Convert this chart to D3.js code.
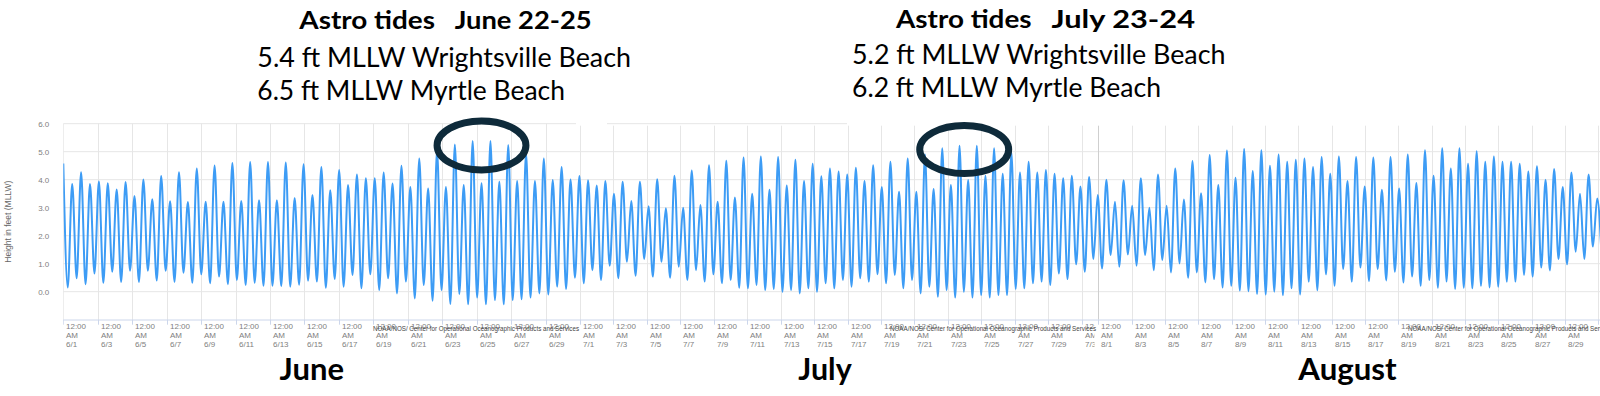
<!DOCTYPE html>
<html>
<head>
<meta charset="utf-8">
<script src="https://cdn.jsdelivr.net/npm/d3@7"></script>
<style>
  html, body { margin: 0; padding: 0; background: #fff; }
  svg { display: block; }
</style>
</head>
<body>
<div id="chart"></div>
<script>
// predicted high and low tides (ft MLLW), in order
const highTides = [
  4.58, 3.85, 4.27, 3.85, 3.94, 3.87, 3.65, 3.92, 3.42, 4.01, 3.30, 4.13, 3.23, 4.27, 3.20, 4.40, 3.21, 4.51, 3.21, 4.60, 3.24, 4.63, 3.27, 4.63, 3.27, 4.61, 3.35,
  4.55, 3.45, 4.45, 3.62, 4.35, 3.81, 4.19, 4.05, 4.05, 4.26, 3.86, 4.50, 3.74, 4.76, 3.69, 5.05, 3.74, 5.26, 3.81, 5.38, 3.87, 5.38, 3.93, 5.24, 3.95,
  4.95, 3.95, 4.76, 3.99, 4.45, 4.01, 4.13, 3.98, 3.79, 3.95, 3.50, 3.93, 3.24, 3.93, 3.05, 4.02, 2.98, 4.14, 3.00, 4.33, 3.10, 4.52, 3.21, 4.68, 3.36, 4.79,
  3.50, 4.83, 3.64, 4.81, 3.79, 4.71, 3.95, 4.57, 4.12, 4.40, 4.29, 4.19, 4.43, 3.95, 4.52, 3.74, 4.64, 3.57, 4.76, 3.57, 4.90, 3.67, 5.12, 3.81, 5.21, 3.99,
  5.21, 4.14, 5.12, 4.21, 4.98, 4.26, 4.64, 4.26, 4.35, 4.21, 4.05, 4.14, 3.76, 4.10, 3.45, 4.00, 3.21, 3.98, 3.07, 4.05, 3.00, 4.19, 3.07, 4.40, 3.29,
  4.67, 3.52, 4.88, 3.81, 5.04, 4.07, 5.10, 4.31, 5.05, 4.50, 4.90, 4.64, 4.71, 4.76, 4.45, 4.81, 4.21, 4.83, 3.95, 4.81, 3.76, 4.79, 3.64, 4.81, 3.69, 4.90,
  3.88, 5.05, 4.14, 5.12, 4.40, 5.12, 4.57, 5.02, 4.64, 4.83, 4.64, 4.64, 4.57, 4.29, 4.48, 4.00, 4.38, 3.74, 4.26, 3.50, 4.19, 3.33
];
const lowTides = [
  0.15, 0.48, 0.27, 0.65, 0.32, 0.71, 0.35, 0.75, 0.35, 0.75, 0.40, 0.75, 0.35, 0.68, 0.32, 0.62, 0.30, 0.54, 0.27, 0.42, 0.24, 0.32, 0.21, 0.21, 0.20, 0.18,
  0.25, 0.39, 0.36, 0.14, 0.45, 0.18, 0.60, 0.12, 0.62, 0.06, 0.48, -0.06, 0.36, -0.24, 0.24, -0.32, 0.06, -0.44, -0.08, -0.45, -0.21, -0.45, -0.30, -0.45, -0.30,
  -0.27, -0.21, -0.06, -0.10, 0.18, 0.10, 0.50, 0.30, 0.77, 0.42, 0.93, 0.48, 1.07, 0.57, 1.17, 0.54, 1.07, 0.50, 0.89, 0.42, 0.77, 0.36, 0.62, 0.30, 0.42, 0.14,
  0.12, 0.24, 0.06, 0.10, 0.00, 0.06, -0.06, 0.12, 0.00, 0.30, 0.12, 0.42, 0.18, 0.48, 0.36, 0.62, 0.30, 0.60, 0.12, 0.42, -0.06, 0.18, -0.18, 0.06, -0.21, 0.00,
  -0.21, -0.12, -0.21, -0.12, -0.12, 0.10, 0.12, 0.30, 0.36, 0.24, 0.65, 0.45, 0.98, 0.71, 1.17, 0.83, 1.31, 0.89, 1.33, 0.93, 1.31, 0.77, 1.13, 0.69, 1.01,
  0.50, 0.69, 0.33, 0.45, 0.15, 0.21, 0.04, 0.02, -0.08, -0.10, 0.00, -0.13, 0.12, -0.10, 0.36, 0.05, 0.62, 0.21, 0.81, 0.36, 0.86, 0.38, 0.81, 0.40, 0.71, 0.33,
  0.54, 0.21, 0.42, 0.14, 0.36, 0.10, 0.14, 0.12, 0.21, 0.15, 0.18, 0.36, 0.36, 0.60, 0.54, 0.86, 0.76, 1.17, 0.98, 1.43, 1.17, 1.61, 1.30
];
const firstHigh = new Date(2025, 5, 1, 0, 0);
const tideCycleHours = 12.4;

const monthStarts = [new Date(2025, 5, 1), new Date(2025, 6, 1), new Date(2025, 7, 1), new Date(2025, 8, 1)];
const monthNames = ["June", "July", "August"];
const tickDays = [
  [1, 3, 5, 7, 9, 11, 13, 15, 17, 19, 21, 23, 25, 27, 29],
  [1, 3, 5, 7, 9, 11, 13, 15, 17, 19, 21, 23, 25, 27, 29, 31],
  [1, 3, 5, 7, 9, 11, 13, 15, 17, 19, 21, 23, 25, 27, 29, 31]
];
const yTicks = [0, 1, 2, 3, 4, 5, 6];
const yTitle = "Height in feet (MLLW)";
const creditText = "NOAA/NOS/ Center for Operational Oceanographic Products and Services";

const noteTitles = [["Astro tides", "June 22-25"], ["Astro tides", "July 23-24"]];
const noteLines = [
  ["5.4 ft MLLW Wrightsville Beach", "6.5 ft MLLW Myrtle Beach"],
  ["5.2 ft MLLW Wrightsville Beach", "6.2 ft MLLW Myrtle Beach"]
];
// astro tide windows that get circled
const ringStart = [new Date(2025, 5, 22, 16, 50), new Date(2025, 6, 21, 7, 40)];
const ringEnd = [new Date(2025, 5, 27, 20, 40), new Date(2025, 6, 26, 15, 20)];

const width = 1600, height = 396;
const panelEdges = [63.3, 576, 1094.5, 1600];

const svg = d3.select("#chart").append("svg")
  .attr("width", width)
  .attr("height", height);

const x = d3.scaleTime()
  .domain(monthStarts)
  .range([63.3, 580, 1098.3, 1615]);

const y = d3.scaleLinear()
  .domain([-1, 6])
  .range([319.7, 123.7]);

// clip rects
const defs = svg.append("defs");
defs.append("clipPath").attr("id", "plotClip")
  .append("rect")
  .attr("x", panelEdges[0]).attr("y", 0)
  .attr("width", width - panelEdges[0]).attr("height", height);
panelEdges.slice(0, 3).forEach((e, i) => {
  defs.append("clipPath").attr("id", "panel" + i)
    .append("rect")
    .attr("x", e).attr("y", 0)
    .attr("width", panelEdges[i + 1] - e).attr("height", height);
});

// horizontal grid
const grid = svg.append("g");
yTicks.forEach(v => {
  if (v == 6) {
    // top line only shows on the first two screenshots
    [[63.3, 576], [607, 847]].forEach(seg => {
      grid.append("line")
        .attr("x1", seg[0]).attr("x2", seg[1])
        .attr("y1", y(v)).attr("y2", y(v))
        .attr("stroke", "#e6e6e6").attr("stroke-width", 1);
    });
  } else {
    grid.append("line")
      .attr("x1", 63.3).attr("x2", width)
      .attr("y1", y(v)).attr("y2", y(v))
      .attr("stroke", "#e6e6e6").attr("stroke-width", 1);
  }
});

// vertical grid, ticks, labels per month panel
const fmt = d3.timeFormat("%-m/%-d");
tickDays.forEach((days, m) => {
  const g = svg.append("g").attr("clip-path", "url(#panel" + m + ")");
  days.forEach(d => {
    const date = new Date(2025, 5 + m, d);
    const px = Math.round(x(date)) + 0.5;
    g.append("line")
      .attr("x1", px).attr("x2", px)
      .attr("y1", y(6) + (m == 0 ? 0 : 2)).attr("y2", y(-1))
      .attr("stroke", (m == 2 && d == 1) ? "#cfcfcf" : "#e6e6e6");
    g.append("line")
      .attr("x1", px).attr("x2", px)
      .attr("y1", y(-1)).attr("y2", y(-1) + 5)
      .attr("stroke", "#ccd6eb");
    const t = g.append("text")
      .attr("x", px + 2.5)
      .attr("font-family", "Liberation Sans, Arial, sans-serif")
      .attr("font-size", 8)
      .attr("fill", "#808080");
    ["12:00", "AM", fmt(date)].forEach((s, k) => {
      t.append("tspan").attr("x", px + 2.5).attr("y", 329.3 + k * 9).text(s);
    });
  });
});

// x axis line
svg.append("line")
  .attr("x1", 63.3).attr("x2", width)
  .attr("y1", 320).attr("y2", 320)
  .attr("stroke", "#ccd6eb");

// y labels
svg.append("g").selectAll("text")
  .data(yTicks)
  .enter().append("text")
  .attr("x", 49.3)
  .attr("y", d => y(d) + 3)
  .attr("text-anchor", "end")
  .attr("font-family", "Liberation Sans, Arial, sans-serif")
  .attr("font-size", 8)
  .attr("fill", "#808080")
  .text(d => d.toFixed(1));

svg.append("text")
  .attr("transform", "translate(10.5,221.7) rotate(-90)")
  .attr("text-anchor", "middle")
  .attr("font-family", "Liberation Sans, Arial, sans-serif")
  .attr("font-size", 8.5)
  .attr("fill", "#666")
  .text(yTitle);

// tide curve through the highs and lows
const cycleMs = tideCycleHours * 3600 * 1000;
const events = [];
highTides.forEach((v, i) => {
  const t = +firstHigh + i * cycleMs;
  events.push({time: new Date(t), value: v});
  if (i < lowTides.length) events.push({time: new Date(t + cycleMs / 2), value: lowTides[i]});
});

const line = d3.line()
  .x(d => x(d.time))
  .y(d => y(d.value))
  .curve(d3.curveMonotoneX);

svg.append("path")
  .datum(events)
  .attr("clip-path", "url(#plotClip)")
  .attr("fill", "none")
  .attr("stroke", "#3d9cf5")
  .attr("stroke-width", 2)
  .attr("d", line);

// credit line of each screenshot
panelEdges.slice(1).forEach((e, i) => {
  svg.append("text")
    .attr("x", [579, 1096, 1614][i])
    .attr("y", 330.5)
    .attr("text-anchor", "end")
    .attr("font-family", "Liberation Sans, Arial, sans-serif")
    .attr("font-size", 6.5)
    .attr("fill", "#444")
    .attr("textLength", 206)
    .attr("lengthAdjust", "spacingAndGlyphs")
    .text(creditText);
});

// rings round the astro tides
ringStart.forEach((s, i) => {
  const cx = (x(s) + x(ringEnd[i])) / 2;
  svg.append("ellipse")
    .attr("cx", cx)
    .attr("cy", [145.4, 149.5][i])
    .attr("rx", (x(ringEnd[i]) - x(s)) / 2)
    .attr("ry", [24.5, 24][i])
    .attr("fill", "none")
    .attr("stroke", "#0e2a3a")
    .attr("stroke-width", 7);
});

// notes at the top
const noteFont = "Lato, 'Open Sans', sans-serif";
const titlePos = [[299.3, 435, 454.7, 591.7, 29.3], [896, 1031.5, 1051.5, 1195, 28.3]];
noteTitles.forEach((tt, i) => {
  const p = titlePos[i];
  tt.forEach((s, k) => {
    svg.append("text")
      .attr("x", p[k * 2]).attr("y", p[4])
      .attr("font-family", noteFont)
      .attr("font-weight", "bold")
      .attr("font-size", 24)
      .attr("fill", "#000")
      .attr("textLength", p[k * 2 + 1] - p[k * 2])
      .attr("lengthAdjust", "spacingAndGlyphs")
      .text(s);
  });
});
const linePos = [[257.3, [66.7, 100], [373.7, 307.7]], [852, [63.7, 97.3], [373.5, 309]]];
noteLines.forEach((ls, i) => {
  const p = linePos[i];
  ls.forEach((s, k) => {
    svg.append("text")
      .attr("x", p[0]).attr("y", p[1][k])
      .attr("font-family", noteFont)
      .attr("font-size", 26)
      .attr("fill", "#000")
      .attr("textLength", p[2][k])
      .attr("lengthAdjust", "spacingAndGlyphs")
      .text(s);
  });
});

// month names under the axis
const monthPos = [[279.6, 64.4], [798.3, 53.4], [1298.3, 98.4]];
monthNames.forEach((mn, i) => {
  svg.append("text")
    .attr("x", monthPos[i][0]).attr("y", 380)
    .attr("font-family", noteFont)
    .attr("font-weight", "bold")
    .attr("font-size", 30)
    .attr("fill", "#000")
    .attr("textLength", monthPos[i][1])
    .attr("lengthAdjust", "spacingAndGlyphs")
    .text(mn);
});
</script>
</body>
</html>
